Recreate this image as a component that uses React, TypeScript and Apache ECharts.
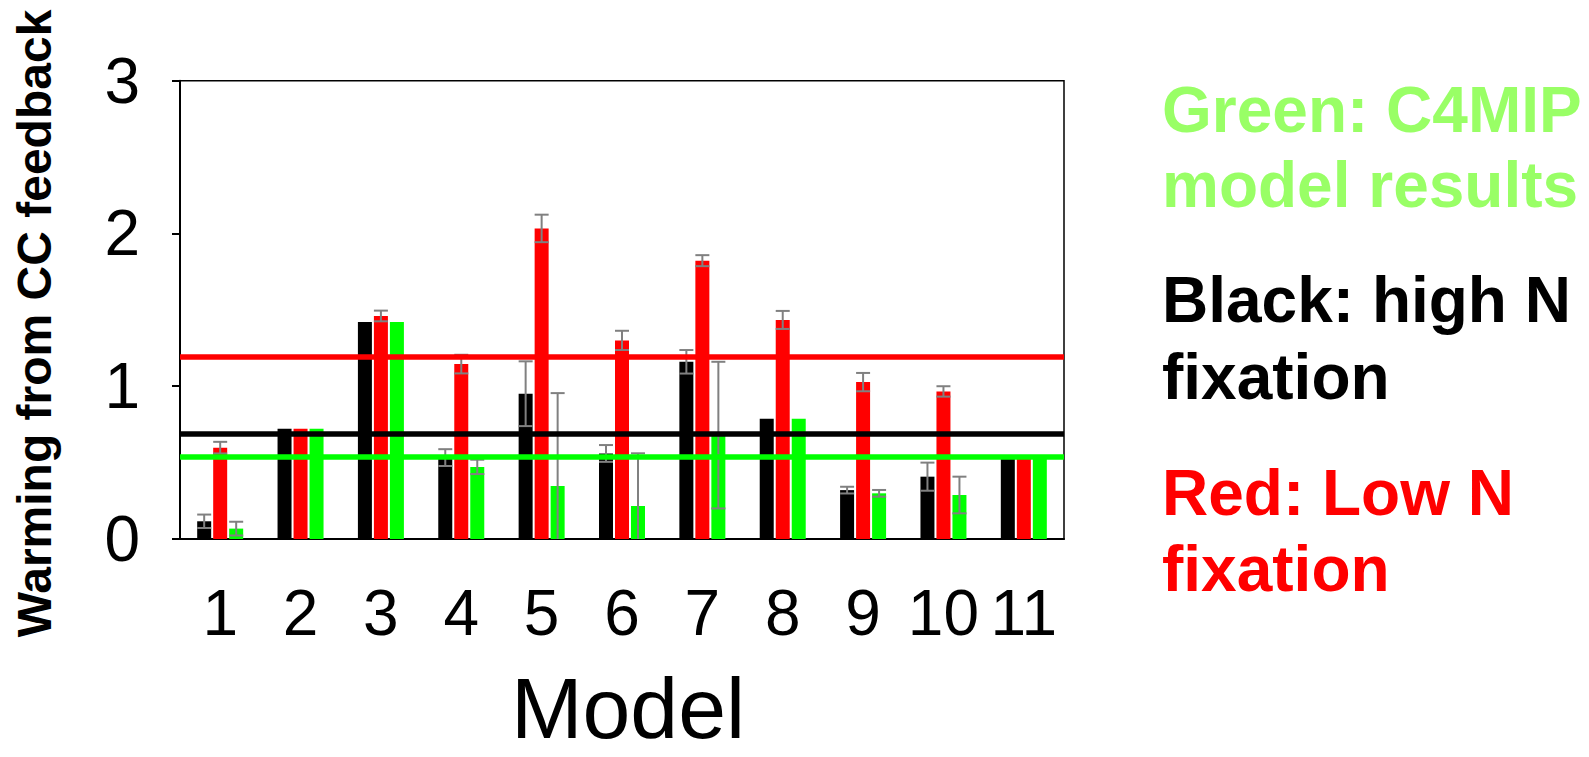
import React, { useEffect, useRef } from "react";
import * as echarts from "echarts";

const categories = ["1", "2", "3", "4", "5", "6", "7", "8", "9", "10", "11"];
const yTicks = [0, 1, 2, 3];

const highN = [0.116, 0.722, 1.42, 0.533, 0.951, 0.56, 1.16, 0.787, 0.32, 0.408, 0.53];
const highNErr = [0.044, 0, 0, 0.055, 0.212, 0.055, 0.077, 0, 0.022, 0.092, 0];

const lowN = [0.598, 0.722, 1.46, 1.145, 2.033, 1.3, 1.822, 1.434, 1.027, 0.966, 0.53];
const lowNErr = [0.038, 0, 0.035, 0.061, 0.09, 0.063, 0.036, 0.059, 0.06, 0.034, 0];

const c4mip = [0.068, 0.722, 1.42, 0.472, 0.347, 0.216, 0.68, 0.787, 0.299, 0.288, 0.53];
const c4mipErr = [0.045, 0, 0, 0.047, 0.608, 0.345, 0.48, 0, 0.022, 0.12, 0];

const meanLines = [
  { name: "low N mean", value: 1.189, color: "#FF0000" },
  { name: "high N mean", value: 0.689, color: "#000000" },
  { name: "C4MIP mean", value: 0.535, color: "#00FF00" },
];

const legendLines = [
  { text: "Green: C4MIP", color: "#99FF66" },
  { text: "model results", color: "#99FF66" },
  { text: "Black: high N", color: "#000000" },
  { text: "fixation", color: "#000000" },
  { text: "Red: Low N", color: "#FF0000" },
  { text: "fixation", color: "#FF0000" },
];
const legendY = [110, 185, 300, 377, 493, 569];

const FONT = "'Liberation Sans', Arial, Helvetica, sans-serif";
const BAR_W = 14;
const BAR_GAP = 2;

function errorSeries(values: number[], errs: number[], slot: number) {
  const offset = (slot - 1) * (BAR_W + BAR_GAP);
  return {
    type: "custom",
    z: 4,
    silent: true,
    data: values.map((v, i) => [i, v, errs[i]]),
    encode: { x: 0, y: 1 },
    renderItem: (params: any, api: any) => {
      const idx = api.value(0);
      const v = api.value(1);
      const e = api.value(2);
      if (!e) return null;
      const hi = v + e;
      const lo = v - e;
      const top = api.coord([idx, hi]);
      const bot = api.coord([idx, Math.max(0, lo)]);
      const x = top[0] + offset;
      const half = BAR_W / 2;
      const style = { stroke: "#808080", lineWidth: 2 };
      const children: any[] = [
        { type: "line", shape: { x1: x, y1: top[1], x2: x, y2: bot[1] }, style },
        { type: "line", shape: { x1: x - half, y1: top[1], x2: x + half, y2: top[1] }, style },
      ];
      if (lo >= 0) {
        children.push({ type: "line", shape: { x1: x - half, y1: bot[1], x2: x + half, y2: bot[1] }, style });
      }
      return { type: "group", children };
    },
  };
}

export default function App() {
  const ref = useRef<HTMLDivElement>(null);
  useEffect(() => {
    if (!ref.current) return;
    const chart = echarts.init(ref.current, null, { renderer: "svg" });
    const option: any = {
      animation: false,
      backgroundColor: "#ffffff",
      textStyle: { fontFamily: FONT },
      grid: {
        left: 180,
        right: 525,
        top: 80.7,
        bottom: 218,
        show: true,
        borderColor: "#000",
        borderWidth: 1.5,
        backgroundColor: "transparent",
      },
      xAxis: {
        type: "category",
        data: categories,
        boundaryGap: true,
        axisLine: { lineStyle: { color: "#000", width: 2 } },
        axisTick: { alignWithLabel: true, length: 7, lineStyle: { color: "#000", width: 2 } },
        axisLabel: { interval: 0, fontSize: 64, color: "#000", margin: 42, fontFamily: FONT },
        splitLine: { show: false },
      },
      yAxis: {
        type: "value",
        min: yTicks[0],
        max: yTicks[yTicks.length - 1],
        interval: 1,
        axisLine: { show: true, lineStyle: { color: "#000", width: 2 } },
        axisTick: { show: true, length: 8, lineStyle: { color: "#000", width: 2 } },
        axisLabel: { fontSize: 64, color: "#000", margin: 40, fontFamily: FONT },
        splitLine: { show: false },
      },
      series: [
        { type: "bar", name: "high N", data: highN, barWidth: BAR_W, barGap: `${(BAR_GAP / BAR_W) * 100}%`, itemStyle: { color: "#000000" }, z: 2 },
        { type: "bar", name: "low N", data: lowN, barWidth: BAR_W, barGap: `${(BAR_GAP / BAR_W) * 100}%`, itemStyle: { color: "#FF0000" }, z: 2 },
        { type: "bar", name: "C4MIP", data: c4mip, barWidth: BAR_W, barGap: `${(BAR_GAP / BAR_W) * 100}%`, itemStyle: { color: "#00FF00" }, z: 2 },
        errorSeries(highN, highNErr, 0),
        errorSeries(lowN, lowNErr, 1),
        errorSeries(c4mip, c4mipErr, 2),
        {
          type: "line",
          data: [],
          z: 6,
          silent: true,
          markLine: {
            silent: true,
            symbol: "none",
            label: { show: false },
            animation: false,
            data: meanLines.map((m) => ({
              name: m.name,
              yAxis: m.value,
              lineStyle: { color: m.color, width: 5.5, type: "solid" },
            })),
          },
        },
      ],
      graphic: [
        {
          type: "text",
          x: 34,
          y: 323.5,
          rotation: Math.PI / 2,
          style: {
            text: "Warming from CC feedback",
            fontSize: 48,
            fontWeight: "bold",
            fontFamily: FONT,
            fill: "#000",
            align: "center",
            verticalAlign: "middle",
          },
        },
        {
          type: "text",
          x: 628,
          y: 708,
          style: {
            text: "Model",
            fontSize: 86,
            fontFamily: FONT,
            fill: "#000",
            align: "center",
            verticalAlign: "middle",
          },
        },
        ...legendLines.map((l, i) => ({
          type: "text",
          x: 1162,
          y: legendY[i],
          style: {
            text: l.text,
            fontSize: 64,
            fontWeight: "bold",
            fontFamily: FONT,
            fill: l.color,
            align: "left",
            verticalAlign: "middle",
          },
        })),
      ],
    };
    chart.setOption(option);
    return () => chart.dispose();
  }, []);
  return (
    <div
      ref={ref}
      style={{ position: "fixed", left: 0, top: 0, width: 1589, height: 757, background: "#fff" }}
    />
  );
}
